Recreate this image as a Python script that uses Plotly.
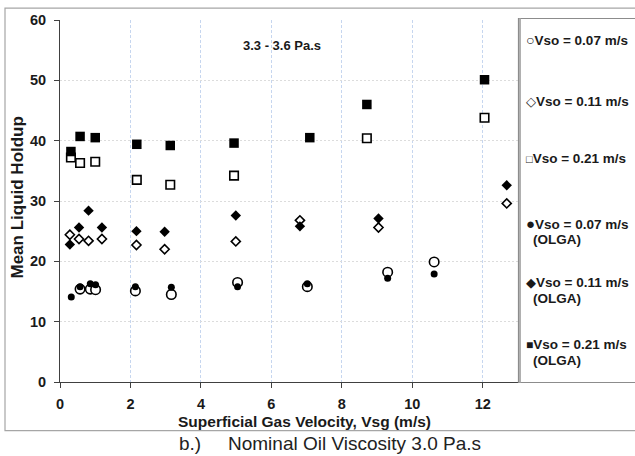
import plotly.graph_objects as go

# ---- data ----
x_007 = [0.57, 0.86, 1.01, 2.14, 3.16, 5.04, 7.02, 9.30, 10.62]
y_007 = [15.4, 15.4, 15.3, 15.1, 14.5, 16.5, 15.8, 18.2, 19.9]

x_011 = [0.28, 0.54, 0.81, 1.19, 2.17, 2.97, 4.99, 6.81, 9.04, 12.68]
y_011 = [24.4, 23.7, 23.4, 23.7, 22.7, 22.0, 23.3, 26.8, 25.6, 29.6]

x_021 = [0.31, 0.57, 1.00, 2.18, 3.13, 4.94, 8.71, 12.05]
y_021 = [37.2, 36.3, 36.5, 33.5, 32.7, 34.2, 40.4, 43.8]

x_007_olga = [0.32, 0.57, 0.86, 1.01, 2.14, 3.16, 5.04, 7.02, 9.30, 10.62]
y_007_olga = [14.1, 15.8, 16.3, 16.1, 15.8, 15.7, 15.8, 16.3, 17.2, 17.9]

x_011_olga = [0.28, 0.54, 0.81, 1.19, 2.17, 2.97, 4.99, 6.81, 9.04, 12.68]
y_011_olga = [22.8, 25.6, 28.4, 25.6, 25.0, 24.9, 27.6, 25.8, 27.1, 32.6]

x_021_olga = [0.31, 0.57, 1.00, 2.18, 3.13, 4.94, 7.09, 8.71, 12.05]
y_021_olga = [38.2, 40.7, 40.5, 39.4, 39.2, 39.6, 40.5, 46.0, 50.1]

series_names = ["Vso = 0.07 m/s", "Vso = 0.11 m/s", "Vso = 0.21 m/s",
                "Vso = 0.07 m/s (OLGA)", "Vso = 0.11 m/s (OLGA)", "Vso = 0.21 m/s (OLGA)"]
x_ticks = [0, 2, 4, 6, 8, 10, 12]
y_ticks = [0, 10, 20, 30, 40, 50, 60]

FONT = "Liberation Sans, Arial, sans-serif"
W, H = 635, 456
L, R, T, B = 60, 117, 17, 74
PW, PH = W - L - R, H - T - B


def px2x(px):
    return (px - L) / PW


def py2y(py):
    return (H - B - py) / PH


fig = go.Figure()

open_style = dict(color="white", line=dict(color="black", width=1.6))
fig.add_trace(go.Scatter(x=x_007, y=y_007, mode="markers", name=series_names[0],
                         marker=dict(symbol="circle", size=9.5, **open_style)))
fig.add_trace(go.Scatter(x=x_011, y=y_011, mode="markers", name=series_names[1],
                         marker=dict(symbol="diamond", size=7, **open_style)))
fig.add_trace(go.Scatter(x=x_021, y=y_021, mode="markers", name=series_names[2],
                         marker=dict(symbol="square", size=8.5, **open_style)))
fig.add_trace(go.Scatter(x=x_007_olga, y=y_007_olga, mode="markers", name=series_names[3],
                         marker=dict(symbol="circle", size=7, color="black")))
fig.add_trace(go.Scatter(x=x_011_olga, y=y_011_olga, mode="markers", name=series_names[4],
                         marker=dict(symbol="diamond", size=8, color="black")))
fig.add_trace(go.Scatter(x=x_021_olga, y=y_021_olga, mode="markers", name=series_names[5],
                         marker=dict(symbol="square", size=9.5, color="black")))

fig.update_layout(
    width=W, height=H,
    margin=dict(l=L, r=R, t=T, b=B, pad=0),
    paper_bgcolor="white", plot_bgcolor="white",
    showlegend=False,
    font=dict(family=FONT, color="#1a1a1a"),
)

fig.update_xaxes(
    range=[0, 13], tickvals=x_ticks, ticktext=[f"<b>{v}</b>" for v in x_ticks],
    showgrid=True, gridcolor="#c6d6ef", griddash="3px,2px", gridwidth=1,
    showline=True, linecolor="#404040", linewidth=1,
    ticks="outside", ticklen=5, tickcolor="#404040",
    tickfont=dict(size=14.5, family=FONT, color="#1a1a1a"),
    ticklabelstandoff=4, zeroline=False,
)
fig.update_yaxes(
    range=[0, 60], tickvals=y_ticks, ticktext=[f"<b>{v}</b>" for v in y_ticks],
    showgrid=True, gridcolor="#dcdcdc", griddash="2px,2px", gridwidth=1,
    showline=True, linecolor="#404040", linewidth=1,
    ticks="outside", ticklen=5, tickcolor="#404040",
    tickfont=dict(size=14.5, family=FONT, color="#1a1a1a"),
    ticklabelstandoff=5, zeroline=False,
)

annotations = []
# axis titles
annotations.append(dict(text="<b>Superficial Gas Velocity, Vsg (m/s)</b>", xref="paper", yref="paper",
                        x=px2x(304), y=py2y(422), xanchor="center", yanchor="middle", showarrow=False,
                        font=dict(size=15.5, family=FONT, color="#1a1a1a")))
annotations.append(dict(text="<b>Mean Liquid Holdup</b>", xref="paper", yref="paper",
                        x=px2x(18), y=py2y(196), xanchor="center", yanchor="middle", showarrow=False,
                        textangle=-90, font=dict(size=17, family=FONT, color="#1a1a1a")))
# in-plot label
annotations.append(dict(text="<b>3.3 - 3.6 Pa.s</b>", xref="paper", yref="paper",
                        x=px2x(241), y=py2y(43), xanchor="left", yanchor="middle", showarrow=False,
                        font=dict(size=13, family=FONT, color="#1a1a1a")))
# caption
annotations.append(dict(text="b.)", xref="paper", yref="paper",
                        x=px2x(177), y=py2y(444), xanchor="left", yanchor="middle", showarrow=False,
                        font=dict(size=19, family=FONT, color="#222222")))
annotations.append(dict(text="Nominal Oil Viscosity 3.0 Pa.s", xref="paper", yref="paper",
                        x=px2x(226), y=py2y(444), xanchor="left", yanchor="middle", showarrow=False,
                        font=dict(size=19, family=FONT, color="#222222")))

# legend (manual)
leg_glyphs = ["○", "◇", "□", "●", "◆", "■"]
leg_glyph_sizes = [14, 12.5, 11, 15, 12.5, 12]
leg_y = [37, 99, 157, 222, 282, 344]
for g, gs, name, yy in zip(leg_glyphs, leg_glyph_sizes, series_names, leg_y):
    first = name.replace(" (OLGA)", "")
    annotations.append(dict(
        text=f'<span style="font-size:{gs}px">{g}</span><b>{first}</b>',
        xref="paper", yref="paper", x=px2x(524), y=py2y(yy),
        xanchor="left", yanchor="middle", showarrow=False,
        font=dict(size=13.5, family=FONT, color="#1a1a1a")))
    if "(OLGA)" in name:
        annotations.append(dict(
            text="<b>(OLGA)</b>", xref="paper", yref="paper", x=px2x(531), y=py2y(yy + 16),
            xanchor="left", yanchor="middle", showarrow=False,
            font=dict(size=13.5, family=FONT, color="#1a1a1a")))

fig.update_layout(annotations=annotations)

shapes = [
    # outer frame
    dict(type="rect", xref="paper", yref="paper", x0=px2x(5), x1=px2x(700), y0=py2y(431), y1=py2y(5),
         line=dict(color="#a6a6a6", width=1.2), fillcolor="rgba(0,0,0,0)", layer="below"),
    # legend box
    dict(type="rect", xref="paper", yref="paper", x0=px2x(518.5), x1=px2x(700), y0=py2y(382.5), y1=py2y(15.5),
         line=dict(color="#8c8c8c", width=1.2), fillcolor="rgba(0,0,0,0)"),
    dict(type="line", xref="paper", yref="paper", x0=px2x(520), x1=px2x(520), y0=py2y(382.5), y1=py2y(15.5),
         line=dict(color="#b0b0b0", width=2)),
]
fig.update_layout(shapes=shapes)

fig.write_html("out.html", config={"displayModeBar": False},
               post_script="document.body.style.margin='0';document.body.style.padding='0';")
